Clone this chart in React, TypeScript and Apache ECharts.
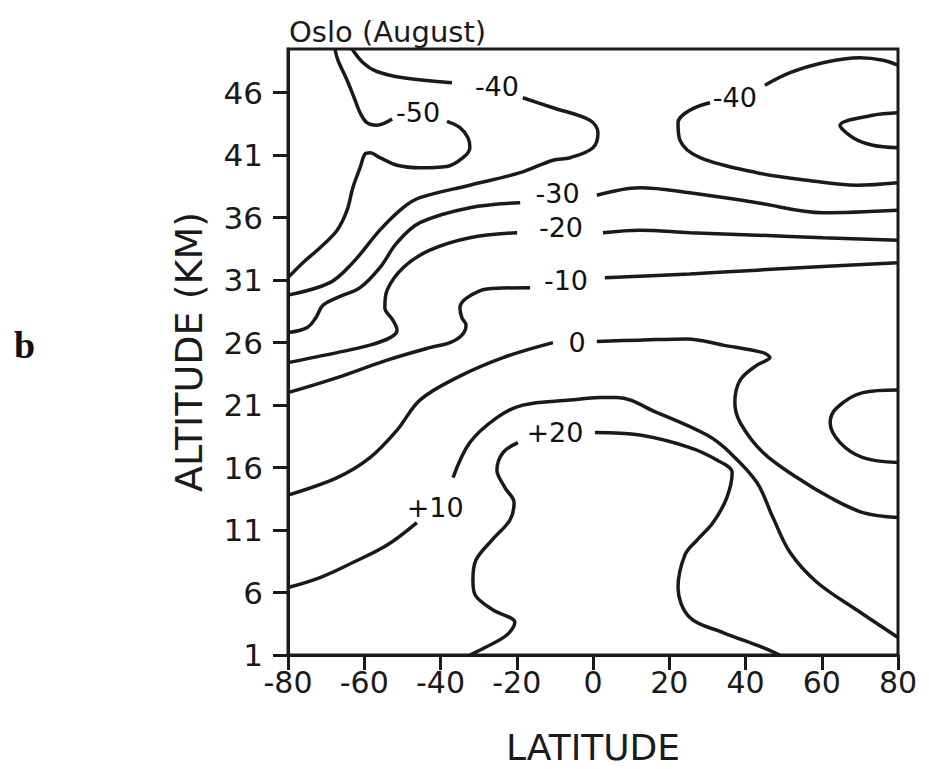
import React, { useEffect, useRef } from "react";
import * as echarts from "echarts";

type P = [number, number];

// Axis ticks
const latitudeTicks = [-80, -60, -40, -20, 0, 20, 40, 60, 80];
const altitudeTicks = [1, 6, 11, 16, 21, 26, 31, 36, 41, 46];

// Contour segments: [latitude, altitude km]
const m50Top: P[] = [[-67.7, 49.5], [-66.9, 48.6], [-64.5, 47.0], [-62.4, 45.4], [-61.1, 44.4], [-59.3, 43.6], [-56.7, 43.4], [-52.7, 43.9]];
const m50Loop: P[] = [[-38.3, 43.7], [-34.9, 43.2], [-32.8, 42.4], [-32.3, 41.6], [-34.1, 40.8], [-38.3, 40.1], [-45.4, 40.0], [-51.4, 40.2], [-55.9, 40.8], [-58.5, 41.2], [-59.8, 41.1], [-61.1, 40.0], [-63.0, 38.4], [-64.5, 36.6], [-67.1, 35.0], [-71.6, 33.6], [-76.1, 32.4], [-80, 31.2]];
const m40LeftTop: P[] = [[-63.2, 49.5], [-60.3, 48.4], [-56.7, 47.7], [-49.8, 47.2], [-37.0, 46.8]];
const m40LeftLoop: P[] = [[-18.4, 45.6], [-10.5, 44.8], [-0.8, 43.8], [1.3, 42.8], [0, 41.6], [-6.0, 40.8], [-10.5, 40.6], [-19.1, 39.6], [-32.3, 38.6], [-45.4, 37.6], [-49.8, 36.8], [-55.9, 35.0], [-63.0, 32.4], [-69.0, 30.8], [-80, 29.8]];
const m40Right: P[] = [[80, 38.8], [69.2, 38.6], [56.1, 39.0], [43.0, 39.6], [28.1, 40.8], [22.8, 42.2], [22.3, 43.6], [25.4, 44.6], [30.7, 45.2]];
const m40RightTop: P[] = [[45.1, 46.6], [51.7, 47.6], [60.3, 48.4], [70, 48.8], [76.1, 48.6], [80, 48.2]];
const m50Wedge: P[] = [[80, 44.4], [73.4, 44.2], [64.8, 43.4], [68.2, 42.4], [73.4, 41.8], [80, 41.6]];
const m30Left: P[] = [[-19.1, 37.2], [-32.3, 36.8], [-45.4, 35.6], [-51.4, 34.0], [-55.9, 32.0], [-61.1, 30.4], [-66.4, 29.7], [-70.8, 29.0], [-72.7, 28.0], [-75.0, 27.2], [-80, 26.8]];
const m30Right: P[] = [[1.0, 37.8], [12.3, 38.4], [25.4, 38.0], [43.0, 37.2], [60.3, 36.4], [80, 36.6]];
const m20Left: P[] = [[-19.9, 34.8], [-32.3, 34.4], [-42.8, 33.4], [-49.8, 32.0], [-54.0, 30.2], [-54.6, 28.8], [-52.5, 27.8], [-51.4, 27.0], [-53.2, 26.4], [-58.5, 25.8], [-67.1, 25.2], [-80, 24.4]];
const m20Right: P[] = [[2.6, 34.8], [12.3, 35.0], [25.4, 34.8], [43.0, 34.6], [60.3, 34.4], [80, 34.2]];
const m10Left: P[] = [[-16.5, 30.4], [-27.8, 30.3], [-33.0, 29.6], [-34.9, 28.8], [-34.4, 28.0], [-33.3, 27.4], [-34.4, 26.6], [-37.5, 26.0], [-42.8, 25.6], [-54.0, 24.6], [-67.1, 23.2], [-80, 22.0]];
const m10Right: P[] = [[3.1, 31.2], [25.4, 31.5], [43.0, 31.8], [60.3, 32.1], [80, 32.4]];
const zeroLeft: P[] = [[-10.5, 26.0], [-23.6, 24.8], [-35.7, 23.2], [-45.4, 21.4], [-51.4, 19.0], [-58.5, 16.8], [-67.1, 15.2], [-80, 13.8]];
const zeroRight: P[] = [[1.0, 26.1], [12.3, 26.2], [24.7, 26.3], [34.1, 25.8], [44.6, 25.2], [46.4, 24.8], [43.0, 24.2], [38.6, 23.0], [37.2, 21.2], [38.6, 19.6], [44.6, 17.2], [53.5, 15.2], [62.2, 13.6], [70.8, 12.4], [80, 12.0]];
const rightLoop: P[] = [[80, 22.2], [70.8, 22.0], [64.0, 20.8], [62.2, 19.6], [64.8, 18.0], [70.8, 16.8], [80, 16.4]];
const p10Lower: P[] = [[-46.2, 11.6], [-54.0, 9.8], [-63.0, 8.4], [-71.6, 7.2], [-80, 6.4]];
const p10Upper: P[] = [[-36.7, 15.2], [-32.3, 18.0], [-25.2, 20.0], [-18.4, 21.0], [-6.0, 21.4], [1.8, 21.6], [6.3, 21.6], [16.8, 20.4], [29.9, 18.6], [35.9, 17.2], [43.0, 14.8], [47.2, 12.0], [51.7, 9.2], [58.8, 6.8], [69.2, 4.6], [80, 2.4]];
const p20Left: P[] = [[-19.7, 18.0], [-23.6, 17.2], [-25.2, 15.8], [-23.1, 14.4], [-20.7, 13.2], [-21.8, 11.8], [-26.5, 10.2], [-30.7, 8.6], [-31.5, 7.0], [-30.9, 5.8], [-26.2, 4.6], [-20.5, 3.6], [-22.6, 2.6], [-28.3, 1.6], [-32.3, 1.0]];
const p20Right: P[] = [[0.5, 18.8], [12.3, 18.6], [25.4, 17.6], [32.5, 16.6], [36.5, 15.6], [35.1, 13.6], [31.5, 11.6], [27.3, 10.2], [24.1, 9.0], [22.3, 6.4], [25.4, 4.0], [34.1, 2.8], [44.6, 1.6], [49.0, 1.0]];

// Contour level labels
const labelTexts = ["-50", "-40", "-40", "-30", "-20", "-10", "0", "+10", "+20"];
const labelPoints: P[] = [[-45.9, 44.4], [-25.2, 46.5], [37.2, 45.6], [-9.3, 37.9], [-8.4, 35.2], [-7.1, 31.0], [-4.2, 26.0], [-41.4, 12.8], [-10.0, 18.8]];

const segments: P[][] = [
  m50Top, m50Loop, m40LeftTop, m40LeftLoop, m40Right, m40RightTop, m50Wedge,
  m30Left, m30Right, m20Left, m20Right, m10Left, m10Right, zeroLeft, zeroRight,
  rightLoop, p10Lower, p10Upper, p20Left, p20Right,
];

const INK = "#1a1a1a";
const FONT = "DejaVu Sans";

export default function App() {
  const ref = useRef<HTMLDivElement>(null);
  useEffect(() => {
    if (!ref.current) return;
    const chart = echarts.init(ref.current, undefined, { renderer: "svg" });
    const lineSeries = segments.map((seg) => ({
      type: "line",
      data: seg,
      smooth: 0.35,
      symbol: "none",
      silent: true,
      lineStyle: { color: INK, width: 3.5 },
    }));
    chart.setOption({
      animation: false,
      backgroundColor: "#ffffff",
      title: {
        text: "Oslo (August)",
        left: 284,
        top: 12,
        textStyle: { fontFamily: FONT, fontSize: 29, fontWeight: "normal", color: INK },
      },
      graphic: [
        {
          type: "text",
          left: 14,
          top: 326,
          style: { text: "b", font: "bold 38px 'Liberation Serif'", fill: "#111" },
        },
      ],
      grid: {
        left: 288,
        right: 31,
        top: 49,
        bottom: 114,
        show: true,
        borderColor: INK,
        borderWidth: 3,
        outerBoundsMode: "none",
      },
      xAxis: {
        type: "value",
        min: -80,
        max: 80,
        interval: 20,
        name: "LATITUDE",
        nameLocation: "middle",
        nameGap: 74,
        nameTextStyle: { fontFamily: FONT, fontSize: 36, color: INK },
        axisLine: { show: true, onZero: false, lineStyle: { color: INK, width: 3 } },
        axisTick: { show: true, inside: false, length: 15, lineStyle: { color: INK, width: 3 }, customValues: latitudeTicks },
        axisLabel: { fontFamily: FONT, fontSize: 30, color: INK, margin: 12, customValues: latitudeTicks },
        splitLine: { show: false },
      },
      yAxis: {
        type: "value",
        min: 1,
        max: 49.5,
        name: "ALTITUDE (KM)",
        nameLocation: "middle",
        nameGap: 80,
        nameRotate: 90,
        nameTextStyle: { fontFamily: FONT, fontSize: 38, color: INK },
        axisLine: { show: true, onZero: false, lineStyle: { color: INK, width: 3 } },
        axisTick: { show: true, inside: false, length: 15, lineStyle: { color: INK, width: 3 }, customValues: altitudeTicks },
        axisLabel: { fontFamily: FONT, fontSize: 31, color: INK, margin: 25, customValues: altitudeTicks },
        splitLine: { show: false },
      },
      series: [
        ...lineSeries,
        {
          type: "scatter",
          silent: true,
          symbolSize: 1,
          itemStyle: { color: "#ffffff", opacity: 1 },
          data: labelPoints.map((p, i) => ({ value: p, name: labelTexts[i] })),
          label: {
            show: true,
            position: "inside",
            formatter: "{b}",
            fontFamily: FONT,
            fontSize: 27,
            color: "#111111",
            opacity: 1,
          },
        },
      ],
    });
    return () => chart.dispose();
  }, []);
  return (
    <div
      ref={ref}
      style={{ position: "fixed", left: 0, top: 0, width: 929, height: 769, background: "#fff" }}
    />
  );
}
